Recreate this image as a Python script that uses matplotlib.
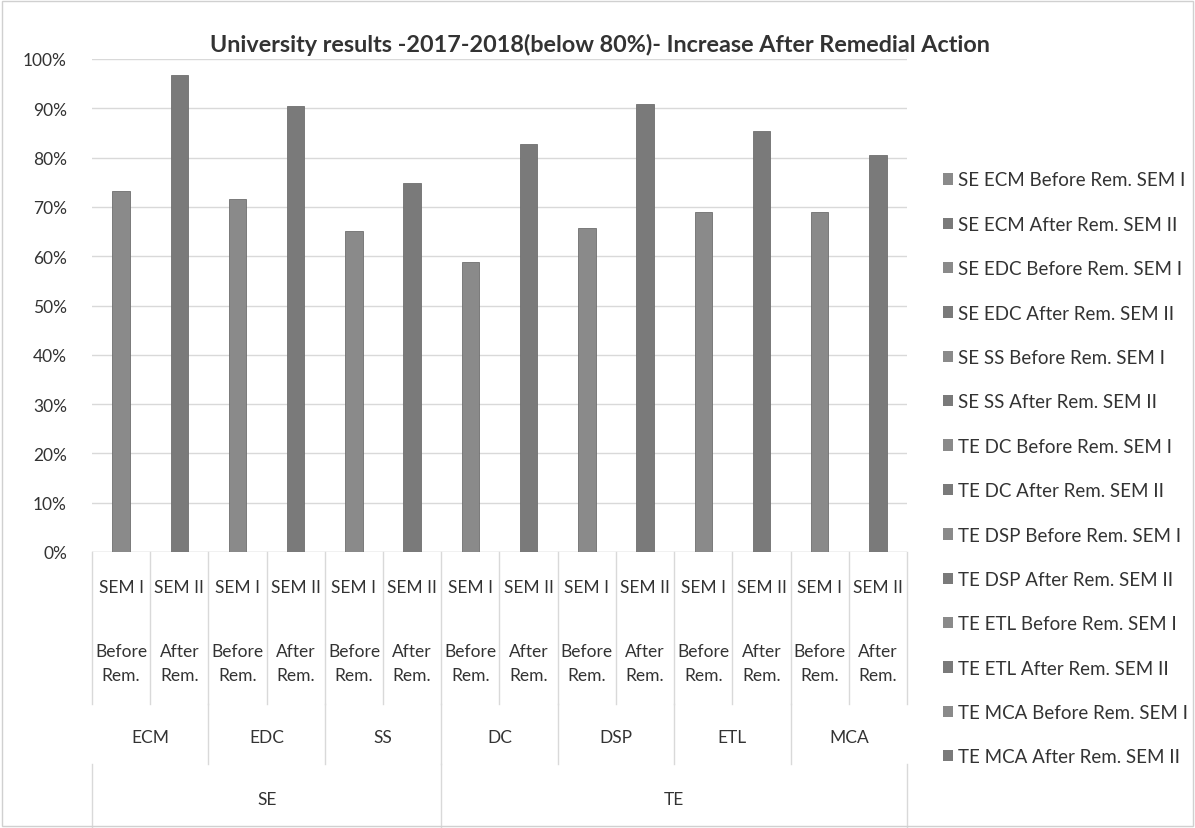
import numpy as np
import matplotlib
matplotlib.use("Agg")
import matplotlib.pyplot as plt
from matplotlib.lines import Line2D
from matplotlib.patches import Patch, Rectangle
import matplotlib.transforms as mtransforms

###############################################################################

year_group = ["SE", "TE"]
subjects = ["ECM", "EDC", "SS", "DC", "DSP", "ETL", "MCA"]
subject_year = ["SE", "SE", "SE", "TE", "TE", "TE", "TE"]
stages = ["Before\nRem.", "After\nRem."]
sems = ["SEM I", "SEM II"]

# result % per subject: [before rem. SEM I, after rem. SEM II]
results = {
    "ECM": [73.2, 96.8],
    "EDC": [71.7, 90.4],
    "SS":  [65.2, 74.9],
    "DC":  [58.8, 82.7],
    "DSP": [65.7, 90.9],
    "ETL": [68.9, 85.4],
    "MCA": [68.9, 80.5],
}

yticks = [0, 10, 20, 30, 40, 50, 60, 70, 80, 90, 100]

###############################################################################

plt.rcParams['font.family'] = ['Lato', 'DejaVu Sans']

W, H = 1195, 829
fig = plt.figure(figsize=(W / 100, H / 100), dpi=100)
tc = "#333333"

def fy(ypix):
    return 1 - ypix / H

# plot area: x 92..907, y 60..553 (pixels)
ax = fig.add_axes([92 / W, fy(553), (907 - 92) / W, (553 - 60) / H])

grays = ["#8a8a8a", "#7a7a7a"]
n = len(subjects) * 2
handles = []
for i, s in enumerate(subjects):
    for j in range(2):
        k = 2 * i + j
        col = grays[j]
        ax.bar(k, results[s][j], width=0.3, color=col, edgecolor="#6f6f6f", linewidth=0.6, zorder=3)
        lab = "{} {} {} Rem. {}".format(subject_year[i], s, "Before" if j == 0 else "After", sems[j])
        handles.append(Patch(facecolor=col, edgecolor="none", label=lab))

ax.set_xlim(-0.5, n - 0.5)
ax.set_ylim(0, 100)
ax.set_yticks(yticks)
ax.set_yticklabels(["{}%".format(t) for t in yticks], fontsize=12.5, color=tc)
ax.set_xticks([])
ax.yaxis.grid(True, color="#d9d9d9", linewidth=1.0, zorder=0)
ax.tick_params(axis="y", length=0, pad=18)
for sp in ax.spines.values():
    sp.set_visible(False)
ax.axhline(0, color="#d9d9d9", linewidth=1.0, zorder=2)

# multi-level category labels below the axis
tr = mtransforms.blended_transform_factory(ax.transData, fig.transFigure)
lc = "#d9d9d9"

def vline(x, y0, y1):
    ax.add_line(Line2D([x, x], [fy(y0), fy(y1)], transform=tr, color=lc, linewidth=1.0, clip_on=False))

for k in range(n):
    ax.text(k, fy(588), sems[k % 2], transform=tr, ha="center", va="center", fontsize=12.5, color=tc)
    ax.text(k, fy(664), stages[k % 2], transform=tr, ha="center", va="center", fontsize=12.5,
            color=tc, linespacing=1.65)
for b in np.arange(-0.5, n, 1.0):
    vline(b, 553, 705)
for i, s in enumerate(subjects):
    ax.text(2 * i + 0.5, fy(738), s, transform=tr, ha="center", va="center", fontsize=12.5, color=tc)
for b in np.arange(1.5, n - 1, 2.0):
    vline(b, 705, 765)
n_se = subject_year.count("SE") * 2
ax.text((n_se - 1) / 2, fy(800), "SE", transform=tr, ha="center", va="center", fontsize=12.5, color=tc)
ax.text((n_se + n - 1) / 2, fy(800), "TE", transform=tr, ha="center", va="center", fontsize=12.5, color=tc)
for b in [-0.5, n_se - 0.5, n - 0.5]:
    vline(b, 765, 829)

fig.text(600 / W, fy(45), "University results -2017-2018(below 80%)- Increase After Remedial Action",
         ha="center", va="center", fontsize=16.8, fontweight="bold", color=tc)

fig.legend(handles=handles, loc="upper left", bbox_to_anchor=(935 / W, fy(165)),
           frameon=False, fontsize=13.5, labelcolor=tc, handlelength=0.55, handleheight=0.55,
           handletextpad=0.3, labelspacing=1.46, borderaxespad=0)

fig.add_artist(Rectangle((2 / W, 2 / H), (W - 4) / W, (H - 4) / H, transform=fig.transFigure,
                         fill=False, edgecolor="#d0d0d0", linewidth=1.0))

plt.savefig("out.png", dpi=100)
